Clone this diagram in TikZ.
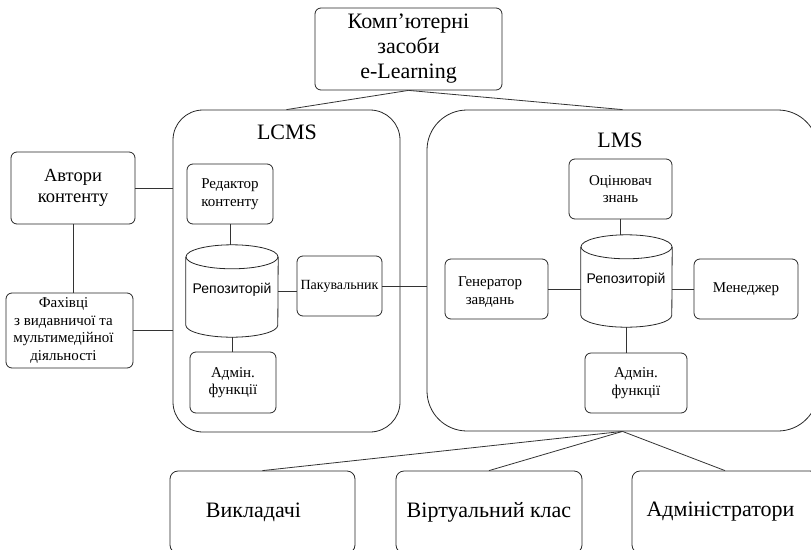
\documentclass[tikz,border=0pt]{standalone}
\usepackage{fontspec}
\setmainfont{Liberation Serif}
\newfontfamily\sansf{Liberation Sans}
\usetikzlibrary{calc}
\begin{document}
\begin{tikzpicture}[x=1pt,y=-1pt,
  every node/.style={inner sep=0pt, align=center},
  box/.style={draw=black!85, rounded corners=6pt, line width=0.8pt},
  big/.style={font=\fontsize{22}{25}\selectfont},
  mid/.style={font=\fontsize{18.5}{21}\selectfont},
  sml/.style={font=\fontsize{15}{17.5}\selectfont},
  cyltext/.style={font=\sansf\fontsize{14}{16}\selectfont},
  wire/.style={draw=black!80, line width=0.8pt},
  cylline/.style={draw=black!85, line width=0.8pt}]
\useasboundingbox (0,0) rectangle (811,549);
\clip (0,0) rectangle (811,549);

% containers
\node[box, rounded corners=30pt, minimum width=227pt, minimum height=322pt] (lcms) at (286.5,271) {};
\node[box, rounded corners=40pt, minimum width=391pt, minimum height=321pt] (lms) at (622.5,270.5) {};
\node[big] (lcmsl) at (287,132) {LCMS};
\node[big] (lmsl) at (620,140) {LMS};

% top
\node[box, big, minimum width=187pt, minimum height=82pt] (top) at (408.5,49) {Комп’ютерні\\засоби\\e-Learning};

% left
\node[box, mid, minimum width=124pt, minimum height=72pt] (avt) at (73,188) {Автори\\контенту};
\node[box, minimum width=127pt, minimum height=75pt] (fah) at (69.5,330.5) {};
\node[sml] (faht) at (63.5,330.5) {Фахівці\\з видавничої та\\мультимедійної\\діяльності};

% LCMS inside
\node[box, sml, minimum width=86pt, minimum height=60pt] (red) at (230,194) {Редактор\\контенту};
\node[minimum width=92pt, minimum height=92pt] (cyl1) at (232,291) {};
\draw[cylline] ($(cyl1.north west)+(0,12)$) -- ($(cyl1.south west)+(0,-12)$) arc[start angle=180, end angle=360, x radius=46pt, y radius=12pt] -- ($(cyl1.north east)+(0,12)$);
\draw[cylline] ($(cyl1.north)+(0,12)$) ellipse[x radius=46pt, y radius=12pt];
\node[cyltext] (cyl1t) at (232,290) {Репозиторій};
\node[box, font=\fontsize{14}{16}\selectfont, minimum width=85pt, minimum height=60pt] (pak) at (339.5,286) {Пакувальник};
\node[box, sml, minimum width=86pt, minimum height=61pt] (adm1) at (233,382.5) {Адмін.\\функції};

% LMS inside
\node[box, sml, minimum width=103pt, minimum height=60pt] (ocin) at (620.5,189) {Оцінювач\\знань};
\node[minimum width=91pt, minimum height=92pt] (cyl2) at (626.5,281) {};
\draw[cylline] ($(cyl2.north west)+(0,12)$) -- ($(cyl2.south west)+(0,-12)$) arc[start angle=180, end angle=360, x radius=45.5pt, y radius=12pt] -- ($(cyl2.north east)+(0,12)$);
\draw[cylline] ($(cyl2.north)+(0,12)$) ellipse[x radius=45.5pt, y radius=12pt];
\node[cyltext] (cyl2t) at (626,280) {Репозиторій};
\node[box, minimum width=103pt, minimum height=60pt] (gen) at (496.5,289) {};
\node[sml] (gent) at (490,292) {Генератор\\завдань};
\node[box, sml, minimum width=104pt, minimum height=60pt] (men) at (746,289) {Менеджер};
\node[box, sml, minimum width=102pt, minimum height=60pt] (adm2) at (636,383) {Адмін.\\функції};

% bottom
\node[box, rounded corners=8pt, minimum width=185pt, minimum height=82pt] (vykl) at (262.5,512) {};
\node[big] (vyklt) at (253.5,512) {Викладачі};
\node[box, big, rounded corners=8pt, minimum width=186pt, minimum height=82pt] (virt) at (489,512) {Віртуальний клас};
\node[box, rounded corners=8pt, minimum width=186pt, minimum height=82pt] (admn) at (725,512) {};
\node[big] (admnt) at (720.5,512) {Адміністратори};

% connectors
\draw[wire] (top.south) -- (lcms.north);
\draw[wire] (top.south) -- (lms.north);
\draw[wire] (avt.east) -- (avt.east -| lcms.west);
\draw[wire] (fah.east) -- (fah.east -| lcms.west);
\draw[wire] (avt.south) -- (avt.south |- fah.north);
\draw[wire] (red.south) -- (red.south |- cyl1.north);
\draw[wire] (cyl1.east) -- (cyl1.east -| pak.west);
\draw[wire] (pak.east) -- (pak.east -| lms.west);
\draw[wire] (cyl1.south) -- (cyl1.south |- adm1.north);
\draw[wire] (ocin.south) -- (ocin.south |- cyl2.north);
\draw[wire] (gen.east) -- (gen.east -| cyl2.west);
\draw[wire] (men.west) -- (men.west -| cyl2.east);
\draw[wire] (cyl2.south) -- (cyl2.south |- adm2.north);
\draw[wire] (lms.south) -- (vykl.north);
\draw[wire] (lms.south) -- (virt.north);
\draw[wire] (lms.south) -- (admn.north);
\end{tikzpicture}
\end{document}
